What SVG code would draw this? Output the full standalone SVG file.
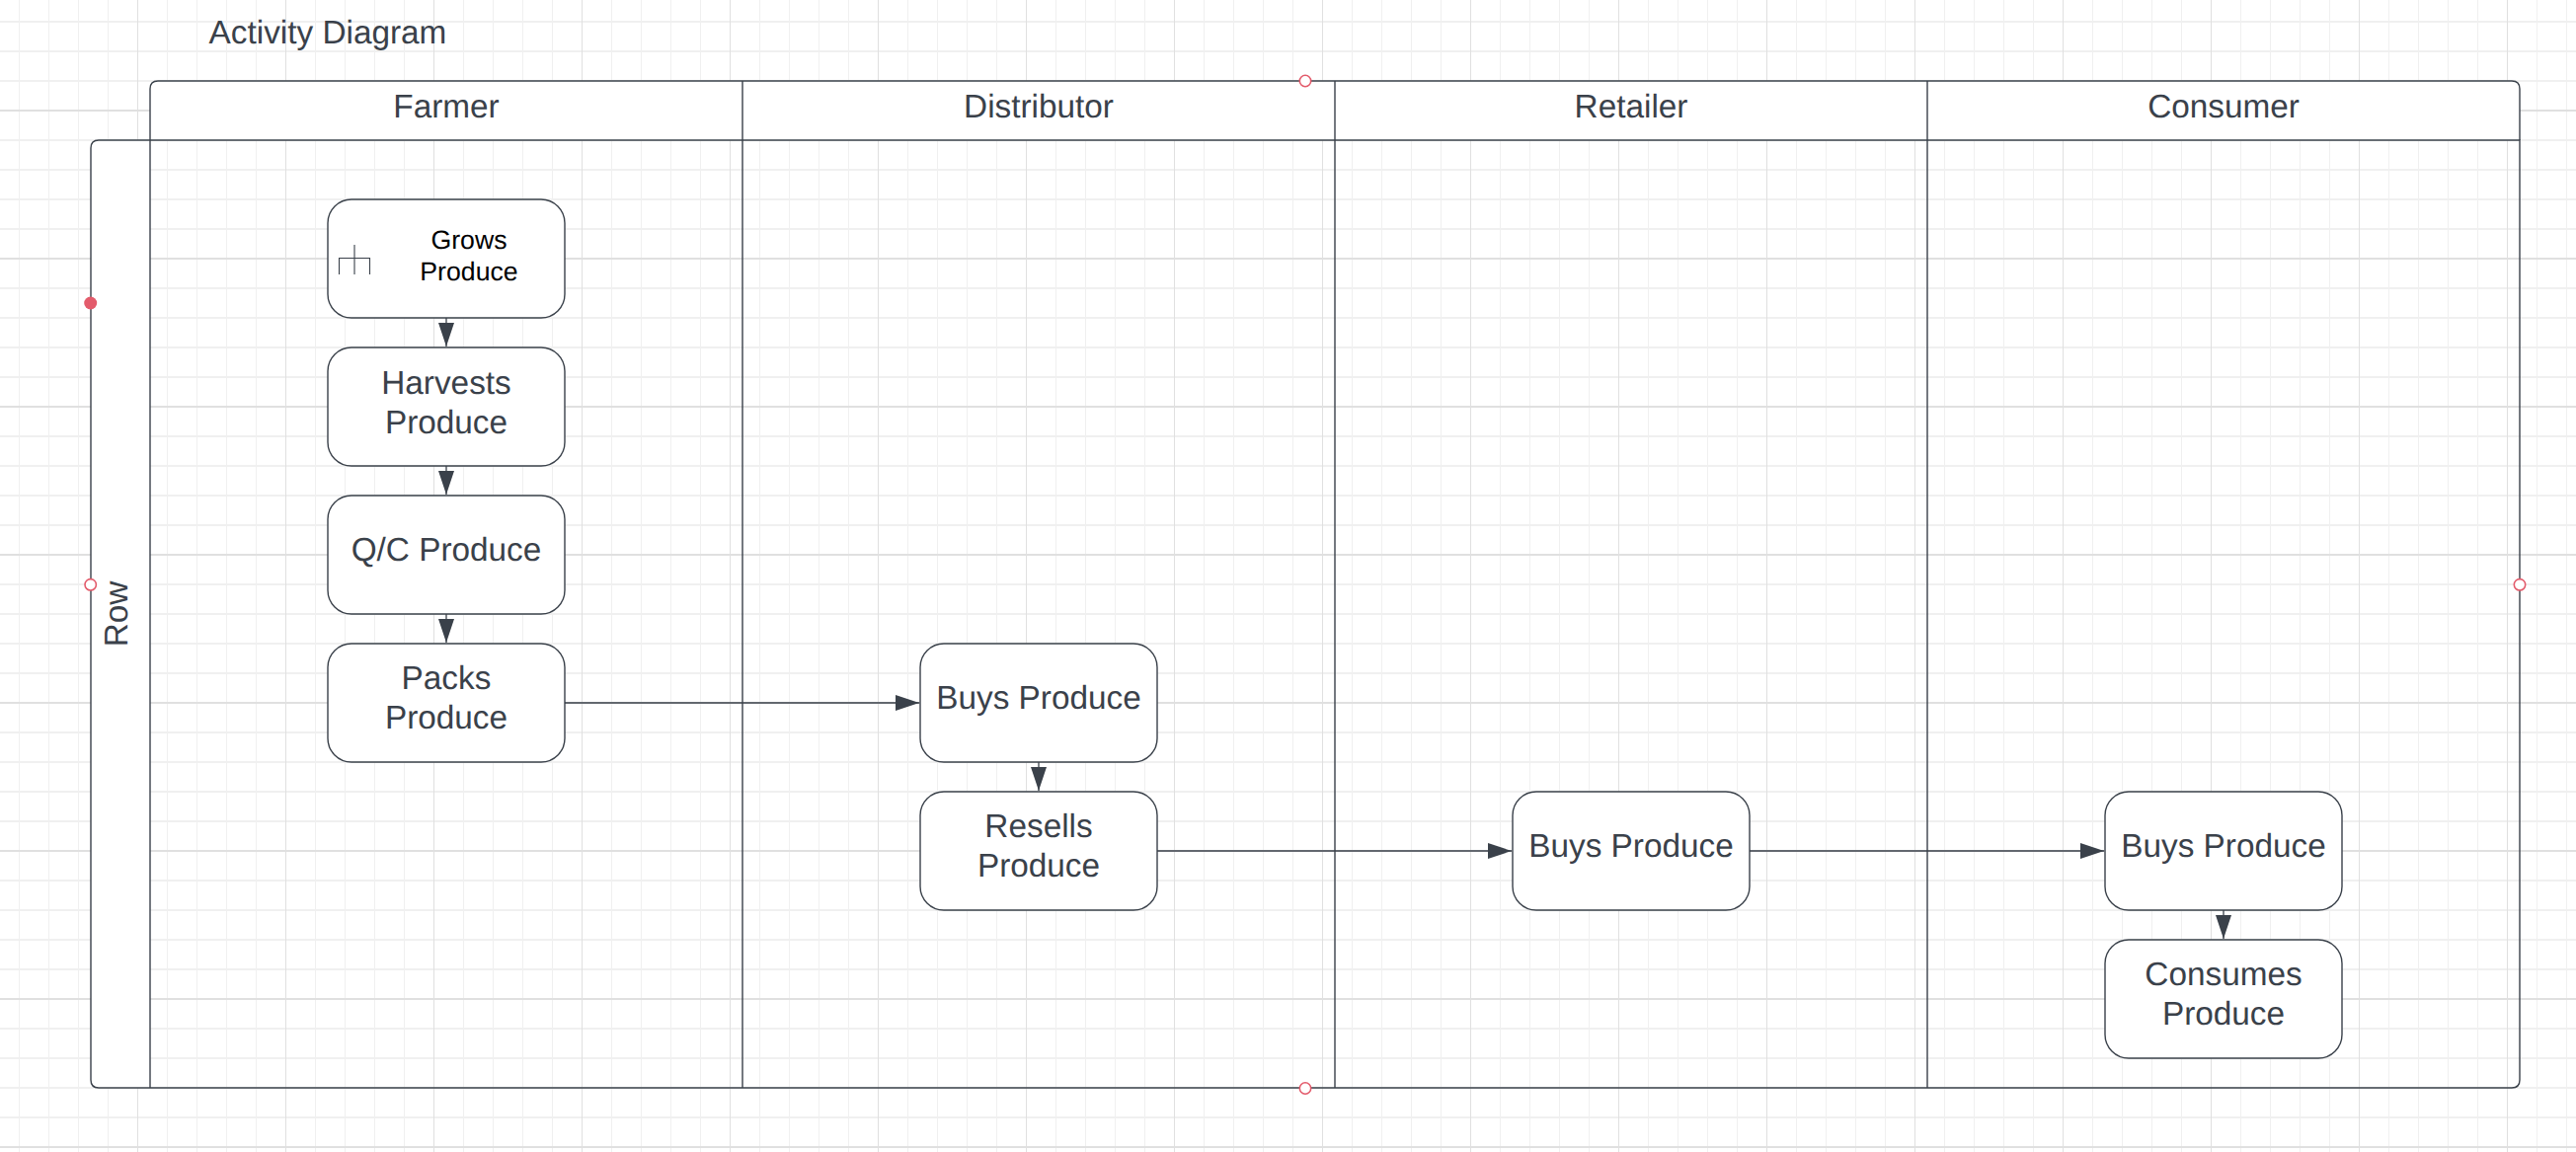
<svg xmlns="http://www.w3.org/2000/svg" width="2609" height="1167" viewBox="0 0 2609 1167">
<style>
text{font-family:"Liberation Sans",Arial,sans-serif;font-size:33.33px;fill:#3a414a;text-anchor:middle;text-rendering:geometricPrecision}
.frame{fill:none;stroke:#3a414a;stroke-width:1.4}
.band{fill:#fff;stroke:none}
.node{fill:#fff;stroke:#3a414a;stroke-width:1.4}
.conn{fill:none;stroke:#3a414a;stroke-width:1.3;marker-end:url(#arrow)}
.hole{fill:#fff;stroke:#e35b6b;stroke-width:1.6}
</style>
<defs>
<marker id="arrow" markerUnits="userSpaceOnUse" markerWidth="24" markerHeight="16" refX="24" refY="8" orient="auto"><path d="M0 0L24 8L0 16Z" fill="#3a414a"/></marker>
<pattern id="vmin" width="30" height="30" patternUnits="userSpaceOnUse" x="4"><rect x="15" width="1" height="30" fill="#f0f0f0"/></pattern>
<pattern id="hmin" width="30" height="30" patternUnits="userSpaceOnUse" y="6"><rect y="15" width="30" height="2" fill="#f0f0f0"/></pattern>
<pattern id="vmaj" width="150" height="150" patternUnits="userSpaceOnUse"><rect x="139" width="1" height="150" fill="#e0e0e0"/></pattern>
<pattern id="hmaj" width="150" height="150" patternUnits="userSpaceOnUse"><rect y="111" width="150" height="2" fill="#e0e0e0"/></pattern>
</defs>
<rect width="2609" height="1167" fill="#fff"/>
<g id="grid">
<rect width="2609" height="1167" fill="url(#hmin)"/>
<rect width="2609" height="1167" fill="url(#vmin)"/>
<rect width="2609" height="1167" fill="url(#hmaj)"/>
<rect width="2609" height="1167" fill="url(#vmaj)"/>
</g>
<text id="title" x="332" y="44">Activity Diagram</text>
<g id="swimlanes">
<path class="band" d="M100 142H152V1102H100Q92 1102 92 1094V150Q92 142 100 142Z"/>
<path class="band" d="M160 82H2544Q2552 82 2552 90V142H152V90Q152 82 160 82Z"/>
<path class="frame" d="M100 142H2552V1094Q2552 1102 2544 1102H100Q92 1102 92 1094V150Q92 142 100 142Z"/>
<path class="frame" d="M152 142V90Q152 82 160 82H2544Q2552 82 2552 90V142"/>
<path class="frame" d="M152 142V1102M752 82V1102M1352 82V1102M1952 82V1102"/>
<text x="452" y="119">Farmer</text>
<text x="1052" y="119">Distributor</text>
<text x="1652" y="119">Retailer</text>
<text x="2252" y="119">Consumer</text>
<text x="129" y="622" transform="rotate(-90 129 622)">Row</text>
</g>
<g id="connectors">
<path class="conn" d="M452 322V351"/>
<path class="conn" d="M452 472V501"/>
<path class="conn" d="M452 622V651"/>
<path class="conn" d="M572 712H931"/>
<path class="conn" d="M1052 772V801"/>
<path class="conn" d="M1172 862H1531"/>
<path class="conn" d="M1772 862H2131"/>
<path class="conn" d="M2252 922V951"/>
</g>
<g id="grows-produce">
<rect class="node" x="332" y="202" width="240" height="120" rx="24"/>
<path d="M343.500 278V261.500H374.500V278M359 248V278" fill="none" stroke="#3a414a" stroke-width="1.1"/>
<text x="475" y="252" style="font-size:26.67px;fill:#000">Grows</text>
<text x="475" y="284" style="font-size:26.67px;fill:#000">Produce</text>
</g>
<g id="harvests-produce">
<rect class="node" x="332" y="352" width="240" height="120" rx="24"/>
<text x="452" y="399">Harvests</text><text x="452" y="439">Produce</text>
</g>
<g id="qc-produce">
<rect class="node" x="332" y="502" width="240" height="120" rx="24"/>
<text x="452" y="568">Q/C Produce</text>
</g>
<g id="packs-produce">
<rect class="node" x="332" y="652" width="240" height="120" rx="24"/>
<text x="452" y="698">Packs</text><text x="452" y="738">Produce</text>
</g>
<g id="distributor-buys">
<rect class="node" x="932" y="652" width="240" height="120" rx="24"/>
<text x="1052" y="718">Buys Produce</text>
</g>
<g id="resells-produce">
<rect class="node" x="932" y="802" width="240" height="120" rx="24"/>
<text x="1052" y="848">Resells</text><text x="1052" y="888">Produce</text>
</g>
<g id="retailer-buys">
<rect class="node" x="1532" y="802" width="240" height="120" rx="24"/>
<text x="1652" y="868">Buys Produce</text>
</g>
<g id="consumer-buys">
<rect class="node" x="2132" y="802" width="240" height="120" rx="24"/>
<text x="2252" y="868">Buys Produce</text>
</g>
<g id="consumes-produce">
<rect class="node" x="2132" y="952" width="240" height="120" rx="24"/>
<text x="2252" y="998">Consumes</text><text x="2252" y="1038">Produce</text>
</g>
<g id="handles">
<circle cx="91.700" cy="307" r="6.500" fill="#e35b6b"/>
<circle class="hole" cx="91.700" cy="592.300" r="5.700"/>
<circle class="hole" cx="2552" cy="592.300" r="5.700"/>
<circle class="hole" cx="1322" cy="82" r="5.700"/>
<circle class="hole" cx="1322" cy="1102.500" r="5.700"/>
</g>
</svg>
